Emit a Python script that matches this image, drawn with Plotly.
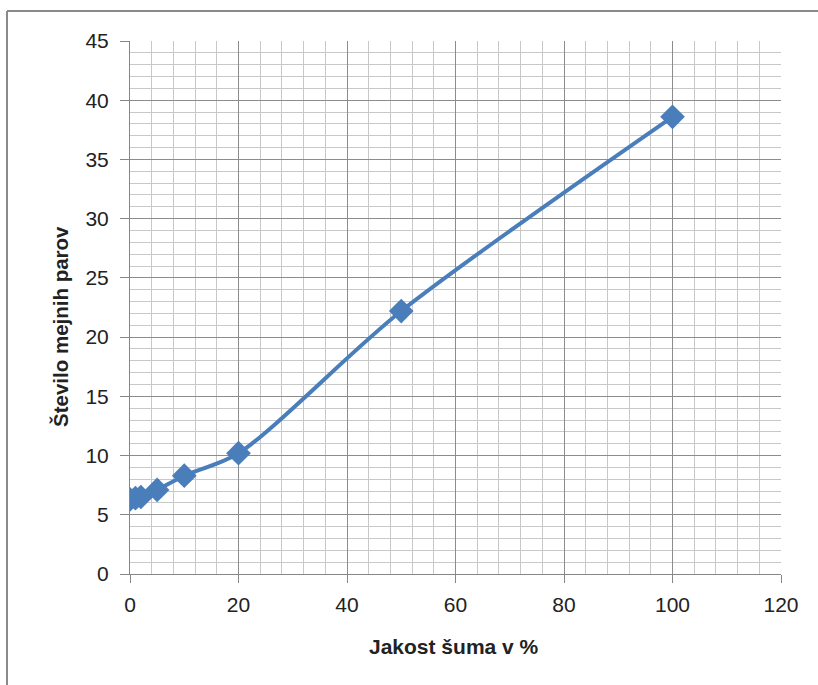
import plotly.graph_objects as go

noise = [0, 1, 2, 5, 10, 20, 50, 100]
pairs = [6.3, 6.4, 6.5, 7.1, 8.3, 10.2, 22.2, 38.6]
x_ticks = [0, 20, 40, 60, 80, 100, 120]
y_ticks = [0, 5, 10, 15, 20, 25, 30, 35, 40, 45]
x_title = "Jakost šuma v %"
y_title = "Število mejnih parov"

W, H = 818, 685
L, R, T, B = 130, 37, 41, 111
pw, ph = W - L - R, H - T - B

font = "Liberation Sans"
fig = go.Figure()
fig.add_trace(go.Scatter(
    x=noise, y=pairs, mode="lines+markers",
    line=dict(color="#4A7EBB", width=4, shape="spline", smoothing=0.8),
    marker=dict(symbol="diamond", size=19, color="#4A7EBB"),
    showlegend=False,
))

def px2x(p):
    return (p - L) / pw

def py2y(p):
    return (H - B - p) / ph

fig.update_layout(
    width=W, height=H,
    margin=dict(l=L, r=R, t=T, b=B),
    paper_bgcolor="white", plot_bgcolor="white",
    font=dict(family=font, size=21, color="#222"),
    xaxis=dict(
        range=[0, 120], tickvals=x_ticks, showgrid=True, gridcolor="#8c8c8c", gridwidth=1,
        minor=dict(dtick=4, showgrid=True, gridcolor="#c8c8c8", gridwidth=1),
        showline=True, linecolor="#868686", linewidth=1,
        ticks="outside", ticklen=8, tickcolor="#868686",
        ticklabelstandoff=4,
        zeroline=False,
    ),
    yaxis=dict(
        range=[0, 45], tickvals=y_ticks, showgrid=True, gridcolor="#8c8c8c", gridwidth=1,
        minor=dict(dtick=1, showgrid=True, gridcolor="#c8c8c8", gridwidth=1),
        showline=True, linecolor="#868686", linewidth=1,
        ticks="outside", ticklen=9, tickcolor="#868686",
        ticklabelstandoff=7,
        zeroline=False,
    ),
    annotations=[
        dict(text="<b>" + x_title + "</b>", xref="paper", yref="paper",
             x=px2x(454), y=py2y(646), xanchor="center", yanchor="middle",
             showarrow=False, font=dict(size=21, color="#222")),
        dict(text="<b>" + y_title + "</b>", xref="paper", yref="paper",
             x=px2x(60), y=py2y(327), xanchor="center", yanchor="middle",
             textangle=-90, showarrow=False, font=dict(size=20.5, color="#222")),
    ],
    shapes=[
        dict(type="line", xref="paper", yref="paper",
             x0=px2x(7), x1=px2x(830), y0=py2y(11), y1=py2y(11),
             line=dict(color="#8a8a8a", width=2)),
        dict(type="line", xref="paper", yref="paper",
             x0=px2x(7), x1=px2x(7), y0=py2y(11), y1=py2y(700),
             line=dict(color="#8a8a8a", width=2)),
    ],
)
fig.write_html("out.html")
